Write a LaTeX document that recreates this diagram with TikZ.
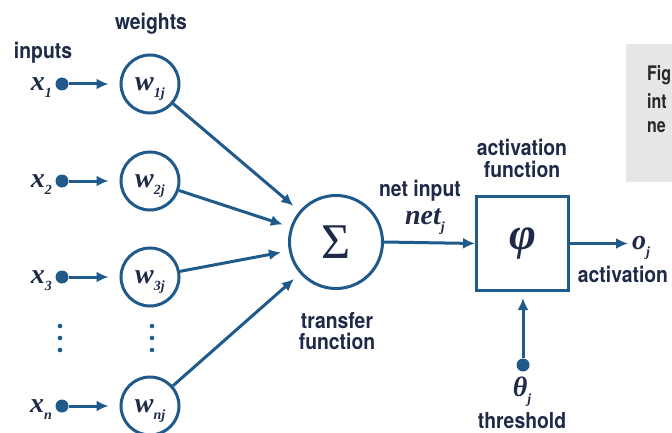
\documentclass[tikz,border=0pt]{standalone}
\usepackage{fontspec}
\newfontfamily\lblfont{TeX Gyre Heros}[FakeStretch=0.88]
\newfontfamily\capfont{TeX Gyre Heros}[FakeStretch=0.8]
\newfontfamily\serifmath{Liberation Serif}
\usetikzlibrary{positioning}
\usetikzlibrary{calc}
\usetikzlibrary{arrows.meta}

\definecolor{nblue}{HTML}{1F5A8A}
\definecolor{ntext}{HTML}{1E2A48}
\definecolor{figgray}{HTML}{E6E7E9}

% bold italic variable with a lowered subscript
\newcommand{\bvar}[2]{{\serifmath\bfseries\itshape\fontsize{28}{28}\selectfont #1\raisebox{-7pt}[0pt][0pt]{\fontsize{14}{14}\selectfont #2}}}

\begin{document}
\begin{tikzpicture}[
	x=1pt, y=-1pt,
	arrow/.style={-{Latex[length=12pt,width=11pt]}, line width=3pt, draw=nblue},
	wcirc/.style={circle, draw=nblue, line width=3pt, minimum size=58pt, inner sep=0pt, text=ntext},
	dot/.style={circle, fill=nblue, inner sep=0pt, minimum size=13pt},
	lbl/.style={font=\lblfont\bfseries\fontsize{22}{22}\selectfont, text=ntext, align=center, inner sep=0pt},
	mlbl/.style={text=ntext, inner sep=0pt},
	caplbl/.style={anchor=west, inner sep=0pt, text=black!85, font=\capfont\bfseries\fontsize{20}{20}\selectfont},
]
\useasboundingbox (0,0) rectangle (672,433);

% caption box, cut at the right edge
\begin{scope}
	\clip (0,0) rectangle (672,433);
	\fill[figgray] (626,44) rectangle (700,182);
	\node[caplbl] (fig1) at (647,75) {Fig};
	\node[caplbl] (fig2) at (647,101) {int};
	\node[caplbl] (fig3) at (647,127) {ne};
\end{scope}

\node[lbl] (inputs) at (43,53) {inputs};
\node[lbl] (weights) at (151,24) {weights};

% inputs and weights
\foreach \i/\y in {1/84,2/181,3/277,n/406} {
	\node[dot] (d\i) at (62,\y) {};
	\node[mlbl, anchor=east] (x\i) at (52,\y) {\bvar{x}{\i}};
	\node[wcirc] (w\i) at (150,\y) {\bvar{w}{\i j}};
	\draw[arrow, shorten >=11pt] (d\i) -- (w\i);
}

% vertical dots
\foreach \yy in {326,338,350} {
	\fill[nblue] (60,\yy) circle (2.3);
	\fill[nblue] (152,\yy) circle (2.3);
}

% transfer function
\node[circle, draw=nblue, line width=3pt, minimum size=93pt, inner sep=0pt, text=ntext] (sum) at (336,242) {\serifmath\fontsize{50}{50}\selectfont Σ};
\node[lbl, font=\lblfont\bfseries\fontsize{22}{21}\selectfont] (trans) at (337,331) {transfer\\function};

\foreach \i in {1,2,3,n}
	\draw[arrow, shorten >=8pt] (w\i) -- (sum);

% activation function
\node[draw=nblue, line width=3pt, minimum width=92pt, minimum height=94pt, inner sep=0pt, text=ntext] (act) at (522.5,243.5) {\serifmath\bfseries\itshape\fontsize{46}{46}\selectfont φ};
\node[lbl] (actlbl) at (522,158) {activation\\function};

\node[lbl] (netin) at (420,191) {net input};
\node[mlbl] (netj) at (425,217) {\bvar{net}{j}};
\draw[arrow] (sum.east) -- (act.west);

% output
\node[mlbl, anchor=west] (oj) at (632,243) {\bvar{o}{j}};
\node[lbl] (actout) at (623,274) {activation};
\draw[arrow, shorten >=4pt] (act.east) -- (act.east -| oj.west);

% threshold
\node[dot] (th) at (523,365) {};
\node[mlbl] (thj) at (522,387) {\bvar{θ}{j}};
\node[lbl] (thlbl) at (522,421) {threshold};
\draw[arrow, shorten >=6pt] (th) -- (act.south -| th);
\end{tikzpicture}
\end{document}
